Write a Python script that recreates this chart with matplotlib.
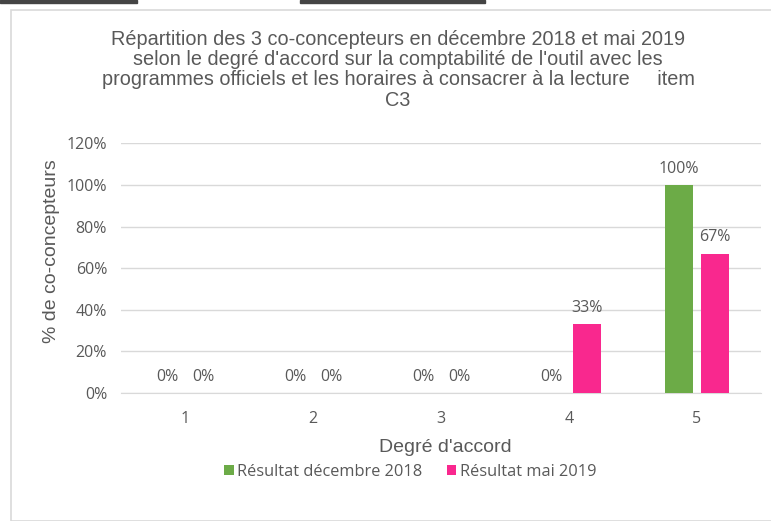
import numpy as np
import matplotlib
matplotlib.use('Agg')
from matplotlib import pyplot as plt
from matplotlib.patches import Rectangle
from matplotlib.ticker import PercentFormatter

categories = ['1', '2', '3', '4', '5']
dec_2018 = [0, 0, 0, 0, 100]
mai_2019 = [0, 0, 0, 33, 67]
yticks = [0, 20, 40, 60, 80, 100, 120]

title = ("Répartition des 3 co-concepteurs en décembre 2018 et mai 2019\n"
         "selon le degré d'accord sur la comptabilité de l'outil avec les\n"
         "programmes officiels et les horaires à consacrer à la lecture     item\n"
         "C3")

green = '#6CAB47'
pink = '#F9288E'
grey = '#595959'

W, H = 771, 521
fig = plt.figure(figsize=(W / 100, H / 100), dpi=100)

# frame of the chart area and the cut-off boxes above it
fig.patches.append(Rectangle((11 / W, 0), 1, 1 - 10 / H, transform=fig.transFigure,
                             fill=False, edgecolor='#d9d9d9', linewidth=1.2))
fig.patches.append(Rectangle((0, 1 - 3 / H), 137 / W, 3 / H, transform=fig.transFigure,
                             color='#444444'))
fig.patches.append(Rectangle((300 / W, 1 - 3 / H), 185 / W, 3 / H, transform=fig.transFigure,
                             color='#444444'))

ax = fig.add_axes([121 / W, 1 - 393 / H, 640 / W, 249.6 / H])

x = np.arange(len(categories))
w = 0.22
off = 0.14
b1 = ax.bar(x - off, dec_2018, w, color=green, label='Résultat décembre 2018', zorder=3)
b2 = ax.bar(x + off, mai_2019, w, color=pink, label='Résultat mai 2019', zorder=3)

for bars, vals in ((b1, dec_2018), (b2, mai_2019)):
    for r, v in zip(bars, vals):
        ax.text(r.get_x() + r.get_width() / 2, v + 4, f'{v}%', ha='center', va='bottom',
                fontsize=11.5, color=grey, family='Open Sans')

ax.set_xlim(-0.5, len(categories) - 0.5)
ax.set_ylim(0, 120)
ax.set_yticks(yticks)
ax.yaxis.set_major_formatter(PercentFormatter(decimals=0))
ax.set_xticks(x)
ax.set_xticklabels(categories)
ax.grid(axis='y', color='#d9d9d9', linewidth=1, zorder=0)
for s in ('top', 'right', 'left'):
    ax.spines[s].set_visible(False)
ax.spines['bottom'].set_color('#d9d9d9')
ax.tick_params(length=0, labelsize=11.5, labelcolor=grey)
ax.tick_params(axis='y', pad=10)
ax.tick_params(axis='x', pad=13)
for lab in ax.get_xticklabels() + ax.get_yticklabels():
    lab.set_family('Open Sans')

ax.set_ylabel('% de co-concepteurs', fontsize=14, color=grey, family='Liberation Sans')
ax.yaxis.set_label_coords(52 / W, 270 / H, transform=fig.transFigure)
ax.set_xlabel("Degré d'accord", fontsize=14, color=grey, family='Liberation Sans')
ax.xaxis.set_label_coords(445 / W, 1 - 447 / H, transform=fig.transFigure)
ax.xaxis.label.set_va('center')
ax.yaxis.label.set_va('center')

fig.text(398 / W, 1 - 30 / H, title, ha='center', va='top', fontsize=14.3, color=grey,
         family='Liberation Sans', linespacing=1.08)

leg = fig.legend(loc='center', bbox_to_anchor=(410 / W, 1 - 472 / H), ncol=2, frameon=False,
                 prop={'family': 'Open Sans', 'size': 11.8}, handlelength=0.6, handleheight=0.6,
                 handletextpad=0.2, columnspacing=1.5)
for t in leg.get_texts():
    t.set_color(grey)

fig.savefig('out.png', dpi=100)
